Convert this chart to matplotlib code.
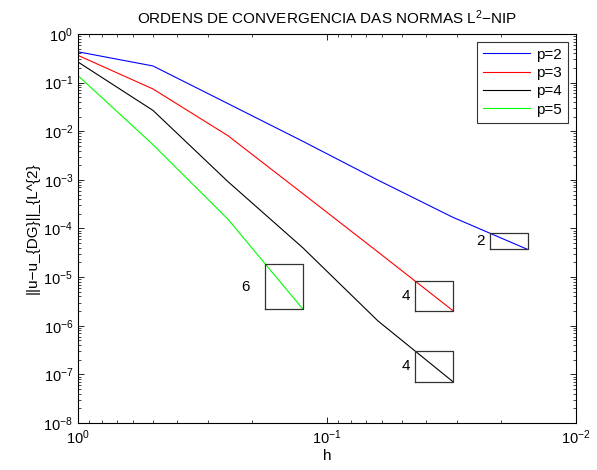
import numpy as np
import matplotlib
matplotlib.use("Agg")
import matplotlib.pyplot as plt
from matplotlib.ticker import LogLocator, LogFormatterSciNotation, NullFormatter

plt.rcParams['font.family'] = ['Liberation Sans', 'DejaVu Sans']
plt.rcParams['mathtext.fontset'] = 'custom'
plt.rcParams['mathtext.rm'] = 'Liberation Sans'
plt.rcParams['mathtext.default'] = 'regular'

# mesh sizes h = 1, 1/2, ..., 1/64
h = [1.0, 1/2, 1/4, 1/8, 1/16, 1/32, 1/64]

err_p2 = [0.43, 0.22, 0.037, 0.0062, 9.9e-4, 1.7e-4, 3.7e-5]
err_p3 = [0.363, 0.074, 0.0081, 5.2e-4, 3.3e-5, 2.05e-6]
err_p4 = [0.265, 0.0268, 9.2e-4, 4.0e-5, 1.26e-6, 7.1e-8]
err_p5 = [0.139, 5.3e-3, 1.55e-4, 2.2e-6]

series_labels = ['p=2', 'p=3', 'p=4', 'p=5']
series_colors = ['#0000ff', '#ff0000', '#000000', '#00ff00']
rate_labels = ['2', '4', '4', '6']
label_gap_pts = [4, 4, 4, 11]

fig = plt.figure(figsize=(5.97, 4.70), dpi=100)
ax = fig.add_axes([0.1307, 0.1, 0.8342, 0.8277])

all_err = [err_p2, err_p3, err_p4, err_p5]
for err, lab, col in zip(all_err, series_labels, series_colors):
    ax.loglog(h[:len(err)], err, color=col, lw=0.8, label=lab)

# slope boxes over the last half-decade step of each curve
for err, rl, gap in zip(all_err, rate_labels, label_gap_pts):
    n = len(err)
    h1, h0 = h[n - 1], h[n - 2]
    e1, e0 = err[n - 1], err[n - 2]
    rate = np.log(e0 / e1) / np.log(h0 / h1)
    hl = h1 * np.sqrt(2.0)
    et = e1 * np.sqrt(2.0) ** rate
    ax.plot([hl, h1, h1, hl, hl], [e1, e1, et, et, e1], color='#333333', lw=0.9)
    ym = np.sqrt(e1 * et)
    ax.annotate(rl, xy=(hl, ym), xytext=(-gap, 0), textcoords='offset points',
                ha='right', va='center', fontsize=11)

ax.set_xlim(1, 1e-2)
ax.set_ylim(1e-8, 1)
ax.xaxis.set_major_locator(LogLocator(base=10, numticks=10))
ax.yaxis.set_major_locator(LogLocator(base=10, numticks=20))
ax.xaxis.set_minor_locator(LogLocator(base=10, subs=np.arange(2, 10), numticks=20))
ax.yaxis.set_minor_locator(LogLocator(base=10, subs=np.arange(2, 10), numticks=40))
ax.xaxis.set_major_formatter(LogFormatterSciNotation())
ax.yaxis.set_major_formatter(LogFormatterSciNotation())
ax.xaxis.set_minor_formatter(NullFormatter())
ax.yaxis.set_minor_formatter(NullFormatter())
ax.tick_params(which='both', direction='in', top=True, right=True, labelsize=10.5)
ax.tick_params(which='major', length=4, width=0.6)
ax.tick_params(which='minor', length=2, width=0.5)
ax.tick_params(axis='x', pad=4)
for s in ax.spines.values():
    s.set_linewidth(0.8)

ax.set_title('ORDENS DE CONVERGENCIA DAS NORMAS L$^{2}$\u2212NIP', fontsize=11, pad=7)
ax.set_xlabel('h', fontsize=11, labelpad=1)
ax.set_ylabel('||u\u2212u_{DG}||_{L^{2}', fontsize=11, labelpad=3)

leg = ax.legend(loc='upper right', fontsize=11, frameon=True, fancybox=False,
                edgecolor='black', handlelength=3.1, handletextpad=0.4,
                labelspacing=0.28, borderpad=0.4, borderaxespad=0.5)
leg.get_frame().set_linewidth(0.8)

fig.savefig('out.png', dpi=100)
